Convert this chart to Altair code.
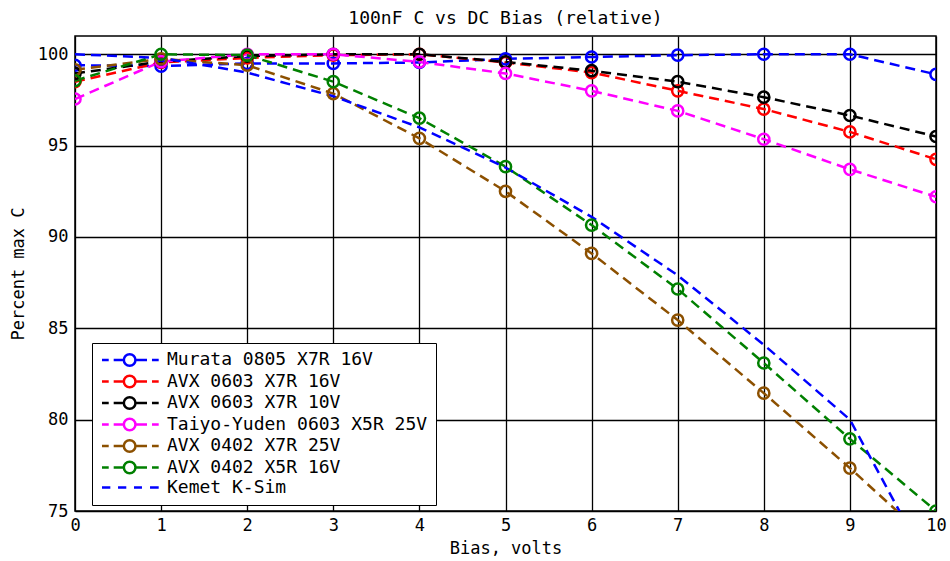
import altair as alt
import pandas as pd

bias = [0, 1, 2, 3, 4, 5, 6, 7, 8, 9, 10]

names = [
    "Murata 0805 X7R 16V",
    "AVX 0603 X7R 16V",
    "AVX 0603 X7R 10V",
    "Taiyo-Yuden 0603 X5R 25V",
    "AVX 0402 X7R 25V",
    "AVX 0402 X5R 16V",
    "Kemet K-Sim",
]
colors = ["#0000FF", "#FF0000", "#000000", "#FF00FF", "#8C5000", "#008000", "#0000FF"]

murata_0805 = [99.4, 99.35, 99.5, 99.5, 99.55, 99.75, 99.85, 99.95, 100.0, 100.0, 98.9]
avx_0603_16 = [98.5, 99.55, 99.8, 99.95, 100.0, 99.55, 99.0, 98.0, 97.0, 95.75, 94.25]
avx_0603_10 = [98.95, 99.6, 99.9, 100.0, 100.0, 99.58, 99.1, 98.5, 97.65, 96.65, 95.5]
taiyo_0603 = [97.55, 99.6, 100.0, 100.0, 99.58, 98.95, 98.0, 96.9, 95.35, 93.7, 92.2]
avx_0402_25 = [99.15, 99.75, 99.4, 97.85, 95.4, 92.5, 89.1, 85.45, 81.45, 77.35, 73.05]
avx_0402_16 = [98.55, 100.0, 99.95, 98.5, 96.5, 93.85, 90.65, 87.15, 83.1, 78.95, 75.0]
kemet_ksim = [100.0, 99.8, 99.0, 97.7, 96.0, 93.8, 91.1, 87.9, 84.1, 80.0, 71.3]

series_values = [murata_0805, avx_0603_16, avx_0603_10, taiyo_0603, avx_0402_25, avx_0402_16, kemet_ksim]
has_marker = [True, True, True, True, True, True, False]

rows = []
for i, (name, vals) in enumerate(zip(names, series_values)):
    for x, v in zip(bias, vals):
        rows.append({"series": name, "order": i, "bias": x, "pct": v, "marker": has_marker[i]})
df = pd.DataFrame(rows)

FONT = "DejaVu Sans Mono"

# legend symbol paths (unit = 7 px with symbolSize 196); drawn to the right of the symbol slot
marker_path = ("M-1,0H-0.04M0.67,0H2.12M3.78,0H5.43M6.14,0H7.1"
               "M3.78,0A0.83,0.83,0,1,1,2.12,0A0.83,0.83,0,1,1,3.78,0")
dash_path = "M-1,0H0.19M1.29,0H2.47M3.57,0H4.71M5.86,0H7.1"
shape_range = [marker_path if m else dash_path for m in has_marker]

color_scale = alt.Scale(domain=names, range=colors)
xenc = alt.X("bias:Q", title="Bias, volts",
             scale=alt.Scale(domain=[0, 10], nice=False),
             axis=alt.Axis(values=bias, format="d", labelFlush=False))
yenc = alt.Y("pct:Q", title="Percent max C",
             scale=alt.Scale(domain=[75, 101], nice=False, zero=False),
             axis=alt.Axis(values=[75, 80, 85, 90, 95, 100], format="d", labelFlush=False))

legend = alt.Legend(
    title=None, orient="none", legendX=17, legendY=307,
    strokeColor="black", fillColor="white", padding=8,
    labelFont=FONT, labelFontSize=18, labelColor="black", labelLimit=500,
    labelOffset=49, symbolSize=196, symbolStrokeWidth=2.5, symbolOpacity=1,
    rowPadding=-0.5,
)

# invisible layer that only carries the legend (first, so its legend settings win)
legend_layer = alt.Chart(df).mark_point(
    filled=False, strokeWidth=2.5, opacity=0, clip=True
).encode(
    x=xenc, y=yenc,
    color=alt.Color("series:N", scale=color_scale, legend=legend),
    shape=alt.Shape("series:N", scale=alt.Scale(domain=names, range=shape_range), legend=legend),
)

lines = alt.Chart(df).mark_line(clip=True, strokeWidth=2.5, strokeDash=[10, 6]).encode(
    x=xenc, y=yenc,
    color=alt.Color("series:N", scale=color_scale),
    detail="series:N",
    order="bias:Q",
)

points = alt.Chart(df).transform_filter("datum.marker").mark_point(
    clip=True, filled=False, strokeWidth=2.5, size=125, shape="circle", opacity=1
).encode(
    x=xenc, y=yenc,
    color=alt.Color("series:N", scale=color_scale),
)

chart = alt.layer(legend_layer, lines, points).properties(
    width=861, height=475,
    title=alt.Title("100nF C vs DC Bias (relative)", font=FONT, fontSize=18,
                    fontWeight="normal", color="black", offset=8),
    padding={"left": 75, "top": 36, "right": 14, "bottom": 50},
    autosize=alt.AutoSizeParams(type="none"),
).configure_view(
    stroke="black", strokeWidth=1.5
).configure_axis(
    grid=True, gridColor="black", gridOpacity=1, gridWidth=1.3,
    domain=False, ticks=False,
    labelFont=FONT, labelFontSize=17, labelColor="black",
    titleFont=FONT, titleFontSize=17, titleFontWeight="normal", titleColor="black",
).configure_axisX(
    labelPadding=6, titlePadding=7,
).configure_axisY(
    labelPadding=7, titlePadding=10,
)

chart.save("out.html", embed_options={"renderer": "svg", "actions": False})
